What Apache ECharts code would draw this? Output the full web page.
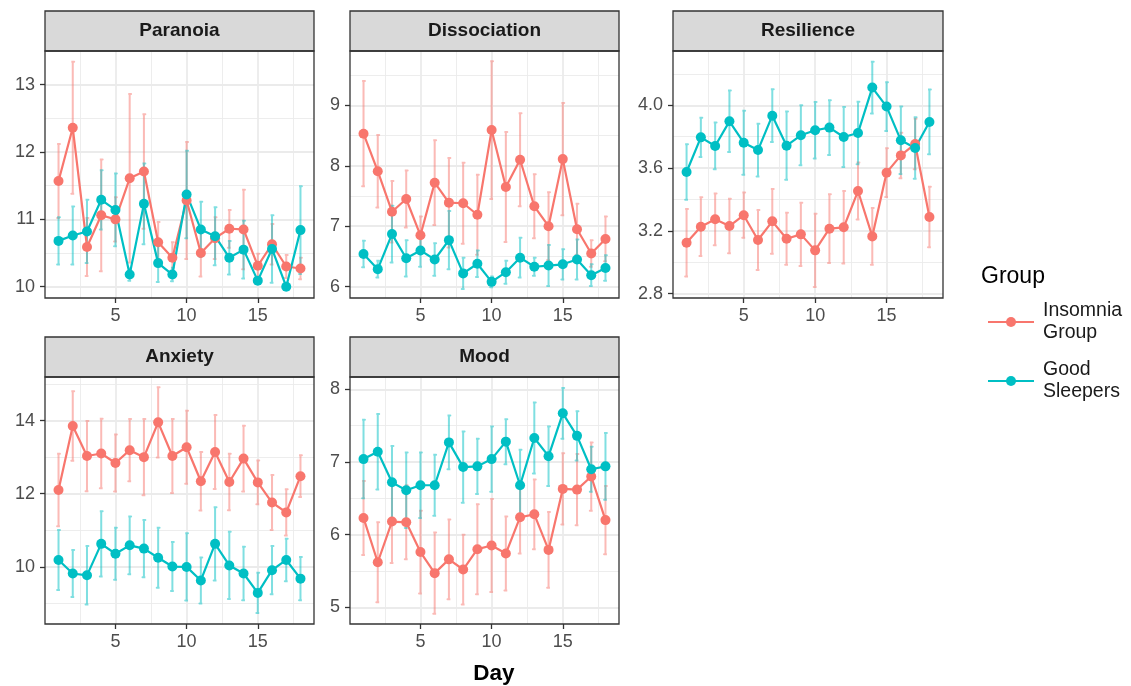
<!DOCTYPE html>
<html>
<head>
<meta charset="utf-8">
<script src="https://cdn.jsdelivr.net/npm/echarts@6/dist/echarts.min.js"></script>
<style>
  html, body { margin: 0; padding: 0; background: #ffffff; }
  #chart { width: 1131px; height: 686px; }
</style>
</head>
<body>
<div id="chart"></div>
<script>
// ---- data -------------------------------------------------------------
const days = [1, 2, 3, 4, 5, 6, 7, 8, 9, 10, 11, 12, 13, 14, 15, 16, 17, 18];
const groupNames = ['Insomnia Group', 'Good Sleepers'];
const xTicks = [5, 10, 15];
const xMinor = [2.5, 7.5, 12.5, 17.5];

const paranoiaInsomnia   = [11.57, 12.36, 10.59, 11.06, 11.00, 11.61, 11.71, 10.66, 10.43, 11.28, 10.50, 10.72, 10.86, 10.85, 10.31, 10.63, 10.30, 10.27];
const paranoiaInsomniaSE = [0.55, 0.98, 0.43, 0.83, 0.33, 1.25, 0.85, 0.30, 0.23, 0.87, 0.35, 0.31, 0.28, 0.59, 0.18, 0.30, 0.17, 0.16];
const paranoiaGood       = [10.68, 10.76, 10.82, 11.29, 11.14, 10.18, 11.23, 10.35, 10.18, 11.37, 10.85, 10.75, 10.43, 10.55, 10.09, 10.56, 10.00, 10.84];
const paranoiaGoodSE     = [0.35, 0.43, 0.47, 0.44, 0.54, 0.09, 0.60, 0.28, 0.10, 0.65, 0.41, 0.43, 0.25, 0.43, 0.05, 0.50, 0.05, 0.65];
const paranoiaTicks = [10, 11, 12, 13];
const paranoiaMinor = [10.5, 11.5, 12.5];

const dissociationInsomnia   = [8.53, 7.91, 7.24, 7.45, 6.85, 7.72, 7.39, 7.38, 7.19, 8.59, 7.65, 8.10, 7.33, 7.00, 8.11, 6.95, 6.55, 6.79];
const dissociationInsomniaSE = [0.87, 0.60, 0.51, 0.47, 0.31, 0.70, 0.74, 0.67, 0.66, 1.14, 0.91, 0.77, 0.53, 0.56, 0.93, 0.42, 0.22, 0.37];
const dissociationGood       = [6.54, 6.29, 6.87, 6.47, 6.60, 6.45, 6.77, 6.22, 6.38, 6.08, 6.24, 6.48, 6.33, 6.35, 6.37, 6.45, 6.19, 6.31];
const dissociationGoodSE     = [0.22, 0.14, 0.47, 0.30, 0.27, 0.27, 0.48, 0.26, 0.22, 0.09, 0.19, 0.33, 0.15, 0.34, 0.25, 0.33, 0.18, 0.21];
const dissociationTicks = [6, 7, 8, 9];
const dissociationMinor = [6.5, 7.5, 8.5, 9.5];

const resilienceInsomnia   = [3.125, 3.227, 3.274, 3.231, 3.300, 3.142, 3.261, 3.150, 3.178, 3.076, 3.214, 3.223, 3.454, 3.165, 3.571, 3.681, 3.754, 3.289];
const resilienceInsomniaSE = [0.215, 0.187, 0.165, 0.174, 0.144, 0.191, 0.206, 0.166, 0.202, 0.234, 0.219, 0.231, 0.181, 0.181, 0.155, 0.145, 0.161, 0.193];
const resilienceGood       = [3.575, 3.796, 3.741, 3.898, 3.762, 3.715, 3.934, 3.743, 3.809, 3.841, 3.858, 3.798, 3.824, 4.113, 3.992, 3.777, 3.728, 3.894];
const resilienceGoodSE     = [0.177, 0.125, 0.149, 0.196, 0.204, 0.168, 0.168, 0.217, 0.191, 0.180, 0.174, 0.191, 0.199, 0.165, 0.155, 0.215, 0.196, 0.206];
const resilienceTicks = [2.8, 3.2, 3.6, 4.0];
const resilienceMinor = [3.0, 3.4, 3.8, 4.2];

const anxietyInsomnia   = [12.10, 13.85, 13.03, 13.10, 12.84, 13.19, 13.00, 13.95, 13.03, 13.27, 12.34, 13.14, 12.32, 12.96, 12.31, 11.76, 11.49, 12.48];
const anxietyInsomniaSE = [0.99, 0.95, 0.96, 0.95, 0.78, 0.85, 1.04, 0.96, 1.01, 1.00, 0.80, 1.01, 0.77, 0.90, 0.60, 0.75, 0.63, 0.57];
const anxietyGood       = [10.19, 9.82, 9.77, 10.63, 10.36, 10.59, 10.50, 10.25, 10.01, 10.00, 9.63, 10.63, 10.04, 9.82, 9.29, 9.91, 10.19, 9.68];
const anxietyGoodSE     = [0.82, 0.64, 0.80, 0.89, 0.71, 0.79, 0.78, 0.82, 0.67, 0.92, 0.63, 1.00, 0.92, 0.73, 0.55, 0.66, 0.58, 0.59];
const anxietyTicks = [10, 12, 14];
const anxietyMinor = [9, 11, 13, 15];

const moodInsomnia   = [6.23, 5.62, 6.18, 6.17, 5.76, 5.47, 5.66, 5.52, 5.80, 5.85, 5.74, 6.24, 6.28, 5.79, 6.63, 6.62, 6.80, 6.20];
const moodInsomniaSE = [0.51, 0.55, 0.57, 0.51, 0.57, 0.56, 0.55, 0.48, 0.62, 0.64, 0.51, 0.50, 0.48, 0.52, 0.49, 0.49, 0.47, 0.47];
const moodGood       = [7.04, 7.14, 6.72, 6.61, 6.68, 6.68, 7.27, 6.93, 6.94, 7.04, 7.28, 6.68, 7.33, 7.08, 7.67, 7.36, 6.90, 6.94];
const moodGoodSE     = [0.54, 0.52, 0.50, 0.52, 0.45, 0.42, 0.37, 0.49, 0.38, 0.45, 0.31, 0.49, 0.49, 0.41, 0.35, 0.34, 0.31, 0.46];
const moodTicks = [5, 6, 7, 8];
const moodMinor = [5.5, 6.5, 7.5];

// ---- appearance -------------------------------------------------------
const FONT = "'Liberation Sans', Arial, Helvetica, sans-serif";
const lineColors = ['#F8766D', '#00BFC4'];
const barColors = ['rgba(248,118,109,0.5)', 'rgba(0,191,196,0.5)'];
const GRID_COLOR = '#EBEBEB';
const INK = '#333333';
const xRange = [0.05, 18.95];
const capHalf = 0.1;
const TICK_FONT = 18;

const panels = [
  { title: 'Paranoia',     means: [paranoiaInsomnia, paranoiaGood],         ses: [paranoiaInsomniaSE, paranoiaGoodSE],         range: [9.832, 13.5],  ticks: paranoiaTicks,     minor: paranoiaMinor,     digits: 0 },
  { title: 'Dissociation', means: [dissociationInsomnia, dissociationGood], ses: [dissociationInsomniaSE, dissociationGoodSE], range: [5.813, 9.898], ticks: dissociationTicks, minor: dissociationMinor, digits: 0 },
  { title: 'Resilience',   means: [resilienceInsomnia, resilienceGood],     ses: [resilienceInsomniaSE, resilienceGoodSE],     range: [2.7726, 4.346], ticks: resilienceTicks,  minor: resilienceMinor,   digits: 1 },
  { title: 'Anxiety',      means: [anxietyInsomnia, anxietyGood],           ses: [anxietyInsomniaSE, anxietyGoodSE],           range: [8.44, 15.19],  ticks: anxietyTicks,      minor: anxietyMinor,      digits: 0 },
  { title: 'Mood',         means: [moodInsomnia, moodGood],                 ses: [moodInsomniaSE, moodGoodSE],                 range: [4.77, 8.17],   ticks: moodTicks,         minor: moodMinor,         digits: 0 }
];

// panel rectangles (plot area) in pixels; strips sit directly above
const panelBoxes = [
  { left: 45,  top: 51,  width: 269, height: 247 },
  { left: 350, top: 51,  width: 269, height: 247 },
  { left: 673, top: 51,  width: 270, height: 247 },
  { left: 45,  top: 377, width: 269, height: 247 },
  { left: 350, top: 377, width: 269, height: 247 }
];
const STRIP_H = 40;

// error bar: vertical segment with short caps, stroked as one path
function renderErrorBar(params, api) {
  const x = api.value(0);
  const lo = api.value(1);
  const hi = api.value(2);
  const top = api.coord([x, hi]);
  const bot = api.coord([x, lo]);
  const l = api.coord([x - capHalf, hi])[0];
  const r = api.coord([x + capHalf, hi])[0];
  return {
    type: 'polyline',
    shape: { points: [[l, top[1]], [r, top[1]], [top[0], top[1]], [bot[0], bot[1]], [l, bot[1]], [r, bot[1]]] },
    style: { stroke: api.visual('color'), lineWidth: 2, fill: null, lineJoin: 'round' }
  };
}

const option = {
  animation: false,
  backgroundColor: '#ffffff',
  grid: [], xAxis: [], yAxis: [], series: [], graphic: [],
  legend: {
    data: groupNames,
    orient: 'vertical',
    left: 987,
    top: 300,
    padding: 0,
    itemWidth: 46,
    itemHeight: 12.5,
    itemGap: 15,
    selectedMode: false,
    formatter: name => name.replace(' ', '\n'),
    textStyle: { fontSize: 19.5, lineHeight: 22, color: '#1A1A1A', fontFamily: FONT, padding: [0, 0, 0, 4] }
  }
};

panels.forEach((p, i) => {
  const box = panelBoxes[i];
  option.grid.push({ left: box.left, top: box.top, width: box.width, height: box.height });

  option.xAxis.push({
    type: 'value', gridIndex: i, min: xRange[0], max: xRange[1],
    axisLine: { show: false }, splitLine: { show: false },
    axisTick: { show: true, customValues: xTicks, length: 5, lineStyle: { color: INK, width: 1.3 } },
    axisLabel: { customValues: xTicks, color: '#4D4D4D', fontSize: TICK_FONT, fontFamily: FONT, margin: 9 }
  });
  option.yAxis.push({
    type: 'value', gridIndex: i, min: p.range[0], max: p.range[1],
    axisLine: { show: false }, splitLine: { show: false },
    axisTick: { show: true, customValues: p.ticks, length: 5, lineStyle: { color: INK, width: 1.3 } },
    axisLabel: { customValues: p.ticks, color: '#4D4D4D', fontSize: TICK_FONT, fontFamily: FONT, margin: 10,
                 formatter: v => Number(v).toFixed(p.digits) }
  });

  // background grid lines (major and minor)
  const gridLines = [];
  xMinor.forEach(v => gridLines.push({ xAxis: v, lineStyle: { color: GRID_COLOR, width: 0.9, type: 'solid' } }));
  p.minor.forEach(v => gridLines.push({ yAxis: v, lineStyle: { color: GRID_COLOR, width: 0.9, type: 'solid' } }));
  xTicks.forEach(v => gridLines.push({ xAxis: v, lineStyle: { color: GRID_COLOR, width: 1.8, type: 'solid' } }));
  p.ticks.forEach(v => gridLines.push({ yAxis: v, lineStyle: { color: GRID_COLOR, width: 1.8, type: 'solid' } }));
  option.series.push({
    type: 'line', xAxisIndex: i, yAxisIndex: i, data: [], silent: true, z: 1,
    markLine: { silent: true, z: 1, animation: false, symbol: ['none', 'none'], label: { show: false },
                emphasis: { disabled: true }, data: gridLines }
  });

  // error bars
  p.means.forEach((m, k) => {
    option.series.push({
      type: 'custom', xAxisIndex: i, yAxisIndex: i, z: 2, silent: true,
      itemStyle: { color: barColors[k] },
      renderItem: renderErrorBar,
      data: days.map((d, j) => [d, m[j] - p.ses[k][j], m[j] + p.ses[k][j]])
    });
  });
  // lines
  p.means.forEach((m, k) => {
    option.series.push({
      type: 'line', name: groupNames[k], xAxisIndex: i, yAxisIndex: i, z: 3,
      symbol: 'circle', symbolSize: 10, showSymbol: false,
      itemStyle: { color: lineColors[k] },
      lineStyle: { color: lineColors[k], width: 2.2 },
      emphasis: { disabled: true },
      data: days.map((d, j) => [d, m[j]])
    });
  });
  // points
  p.means.forEach((m, k) => {
    option.series.push({
      type: 'scatter', name: groupNames[k], xAxisIndex: i, yAxisIndex: i, z: 4,
      symbol: 'circle', symbolSize: 10,
      itemStyle: { color: lineColors[k], opacity: 1 },
      emphasis: { disabled: true },
      data: days.map((d, j) => [d, m[j]])
    });
  });

  // facet strip and panel border
  option.graphic.push({
    type: 'rect', z: 100,
    shape: { x: box.left, y: box.top - STRIP_H, width: box.width, height: STRIP_H },
    style: { fill: '#D9D9D9', stroke: INK, lineWidth: 1.3 }
  });
  option.graphic.push({
    type: 'text', z: 101,
    x: box.left + box.width / 2, y: box.top - STRIP_H / 2,
    style: { text: p.title, fill: '#1A1A1A', font: 'bold 19px ' + FONT, align: 'center', verticalAlign: 'middle' }
  });
  option.graphic.push({
    type: 'rect', z: 100,
    shape: { x: box.left, y: box.top, width: box.width, height: box.height },
    style: { fill: null, stroke: INK, lineWidth: 1.3 }
  });
});

// axis title and legend title
option.graphic.push({
  type: 'text', z: 101, x: 494, y: 674,
  style: { text: 'Day', fill: '#000000', font: 'bold 22.5px ' + FONT, align: 'center', verticalAlign: 'middle' }
});
option.graphic.push({
  type: 'text', z: 101, x: 981, y: 277,
  style: { text: 'Group', fill: '#000000', font: '23px ' + FONT, align: 'left', verticalAlign: 'middle' }
});

const chart = echarts.init(document.getElementById('chart'), null, { renderer: 'canvas' });
chart.setOption(option);
</script>
</body>
</html>
